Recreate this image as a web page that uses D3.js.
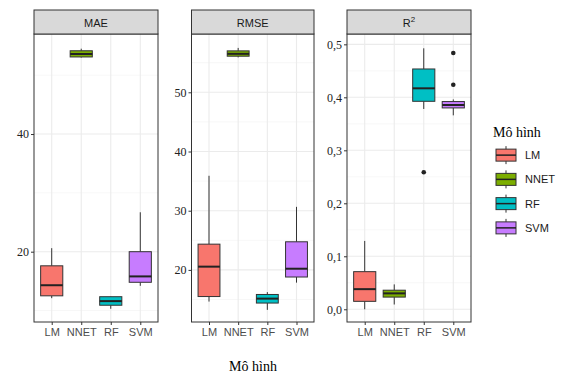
<!DOCTYPE html>
<html>
<head>
<meta charset="utf-8">
<script src="https://cdn.jsdelivr.net/npm/d3@7"></script>
<style>
  body { margin: 0; background: #fff; }
</style>
</head>
<body>
<div id="chart"></div>
<script>
// data: [lower whisker, Q1, median, Q3, upper whisker] per model
const models = ["LM", "NNET", "RF", "SVM"];
const colors = ["#F8766D", "#7CAE00", "#00BFC4", "#C77CFF"];

const maeStats = [
  [12.1, 12.5, 14.3, 17.6, 20.6],
  [53.0, 53.1, 53.6, 54.15, 54.5],
  [10.3, 10.9, 11.6, 12.35, 12.4],
  [14.2, 14.8, 15.8, 20.0, 26.7]
];
const rmseStats = [
  [14.65, 15.5, 20.55, 24.35, 35.9],
  [55.9, 56.1, 56.5, 57.0, 57.5],
  [13.25, 14.4, 15.15, 15.85, 16.25],
  [17.85, 18.8, 20.2, 24.75, 30.65]
];
const r2Stats = [
  [0.0, 0.015, 0.038, 0.071, 0.129],
  [0.009, 0.023, 0.030, 0.036, 0.047],
  [0.378, 0.3925, 0.417, 0.4535, 0.4925],
  [0.366, 0.380, 0.3855, 0.392, 0.396]
];
const r2Outliers = [[], [], [0.2585], [0.4836, 0.4238]];

const facets = [
  { name: "MAE", stats: maeStats, outliers: [[], [], [], []], domain: [8.05, 57.0],
    ticks: [20, 40], minor: [10, 30, 50], fmt: d => d, x0: 34, x1: 158 },
  { name: "RMSE", stats: rmseStats, outliers: [[], [], [], []], domain: [11.2, 59.85],
    ticks: [20, 30, 40, 50], minor: [15, 25, 35, 45, 55], fmt: d => d, x0: 191.5, x1: 314 },
  { name: "R2", stats: r2Stats, outliers: r2Outliers, domain: [-0.024, 0.5195],
    ticks: [0, 0.1, 0.2, 0.3, 0.4, 0.5], minor: [0.05, 0.15, 0.25, 0.35, 0.45],
    fmt: d => d3.format(".1f")(d).replace(".", ","), x0: 347, x1: 471 }
];

const W = 564, H = 376;
const panelTop = 34, panelBottom = 322, stripH = 24;

const svg = d3.select("#chart").append("svg")
  .attr("width", W).attr("height", H);

facets.forEach(f => {
  const g = svg.append("g");
  const x = d3.scaleLinear().domain([0.4, 4.6]).range([f.x0, f.x1]);
  const y = d3.scaleLinear().domain(f.domain).range([panelBottom, panelTop]);
  const bw = x(0.375) - x(0);

  // background
  g.append("rect").attr("x", f.x0).attr("y", panelTop)
    .attr("width", f.x1 - f.x0).attr("height", panelBottom - panelTop).attr("fill", "#fff");

  // grid
  g.selectAll(".minor").data(f.minor).join("line")
    .attr("x1", f.x0).attr("x2", f.x1)
    .attr("y1", d => y(d)).attr("y2", d => y(d))
    .attr("stroke", "#F2F2F2").attr("stroke-width", 0.6);
  g.selectAll(".major").data(f.ticks).join("line")
    .attr("x1", f.x0).attr("x2", f.x1)
    .attr("y1", d => y(d)).attr("y2", d => y(d))
    .attr("stroke", "#EBEBEB").attr("stroke-width", 1.1);
  g.selectAll(".vgrid").data(models).join("line")
    .attr("x1", (d, i) => x(i + 1)).attr("x2", (d, i) => x(i + 1))
    .attr("y1", panelTop).attr("y2", panelBottom)
    .attr("stroke", "#EBEBEB").attr("stroke-width", 1.1);

  // boxes
  models.forEach((m, i) => {
    const s = f.stats[i];
    const cx = x(i + 1);
    g.append("line").attr("x1", cx).attr("x2", cx)
      .attr("y1", y(s[0])).attr("y2", y(s[1]))
      .attr("stroke", "#333").attr("stroke-width", 1);
    g.append("line").attr("x1", cx).attr("x2", cx)
      .attr("y1", y(s[3])).attr("y2", y(s[4]))
      .attr("stroke", "#333").attr("stroke-width", 1);
    g.append("rect").attr("x", cx - bw).attr("width", bw * 2)
      .attr("y", y(s[3])).attr("height", y(s[1]) - y(s[3]))
      .attr("fill", colors[i]).attr("stroke", "#333").attr("stroke-width", 1);
    g.append("line").attr("x1", cx - bw).attr("x2", cx + bw)
      .attr("y1", y(s[2])).attr("y2", y(s[2]))
      .attr("stroke", "#222").attr("stroke-width", 2);
    f.outliers[i].forEach(o => {
      g.append("circle").attr("cx", cx).attr("cy", y(o)).attr("r", 2.3).attr("fill", "#222");
    });
  });

  // panel border
  g.append("rect").attr("x", f.x0).attr("y", panelTop)
    .attr("width", f.x1 - f.x0).attr("height", panelBottom - panelTop)
    .attr("fill", "none").attr("stroke", "#333").attr("stroke-width", 1);

  // strip
  g.append("rect").attr("x", f.x0).attr("y", panelTop - stripH)
    .attr("width", f.x1 - f.x0).attr("height", stripH)
    .attr("fill", "#D9D9D9").attr("stroke", "#333").attr("stroke-width", 1);
  const st = g.append("text").attr("x", (f.x0 + f.x1) / 2).attr("y", panelTop - 7)
    .attr("text-anchor", "middle").attr("fill", "#1A1A1A")
    .style("font-family", "Liberation Sans, Arial, sans-serif").style("font-size", "11px");
  if (f.name === "R2") {
    st.text("R");
    st.append("tspan").attr("dy", -5).style("font-size", "8px").text("2");
  } else {
    st.text(f.name);
  }

  // y axis
  const ya = g.append("g").attr("transform", `translate(${f.x0},0)`)
    .call(d3.axisLeft(y).tickValues(f.ticks).tickFormat(f.fmt).tickSize(3).tickPadding(2));
  ya.select(".domain").remove();
  ya.selectAll("line").attr("stroke", "#333");
  ya.selectAll("text").attr("fill", "#222")
    .style("font-family", "Liberation Serif, Times New Roman, serif").style("font-size", "12px");

  // x axis
  const xa = g.append("g").attr("transform", `translate(0,${panelBottom})`)
    .call(d3.axisBottom(x).tickValues([1, 2, 3, 4]).tickFormat((d, i) => models[i]).tickSize(3).tickPadding(3));
  xa.select(".domain").remove();
  xa.selectAll("line").attr("stroke", "#333");
  xa.selectAll("text").attr("fill", "#4D4D4D")
    .style("font-family", "Liberation Sans, Arial, sans-serif").style("font-size", "11px");
});

// axis title
svg.append("text").attr("x", 253).attr("y", 371).attr("text-anchor", "middle")
  .style("font-family", "Liberation Serif, Times New Roman, serif").style("font-size", "14px")
  .attr("fill", "#000").text("Mô hình");

// legend
const legend = svg.append("g").attr("transform", "translate(493,0)");
legend.append("text").attr("x", 0).attr("y", 137)
  .style("font-family", "Liberation Serif, Times New Roman, serif").style("font-size", "14px")
  .attr("fill", "#000").text("Mô hình");
const legY = d3.scaleBand().domain(models).range([143, 240]);
models.forEach((m, i) => {
  const cy = legY(m) + legY.bandwidth() / 2;
  const row = legend.append("g");
  row.append("line").attr("x1", 13).attr("x2", 13).attr("y1", cy - 9).attr("y2", cy + 9)
    .attr("stroke", "#333");
  row.append("rect").attr("x", 3).attr("y", cy - 6).attr("width", 20).attr("height", 12)
    .attr("fill", colors[i]).attr("stroke", "#333");
  row.append("line").attr("x1", 3).attr("x2", 23).attr("y1", cy).attr("y2", cy)
    .attr("stroke", "#222").attr("stroke-width", 1.5);
  row.append("text").attr("x", 32).attr("y", cy + 4)
    .style("font-family", "Liberation Sans, Arial, sans-serif").style("font-size", "11px")
    .attr("fill", "#1A1A1A").text(m);
});
</script>
</body>
</html>
